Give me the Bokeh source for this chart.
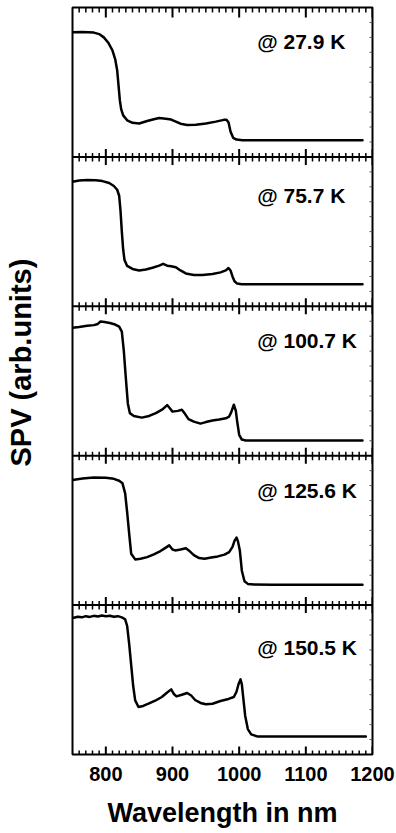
from bokeh.plotting import figure
from bokeh.models import LinearAxis, FixedTicker, Range1d, Title
from bokeh.core.properties import value
from bokeh.embed import file_html
from bokeh.resources import INLINE

FONT = "Liberation Sans"

# Temperature of each spectrum, top panel first
temperatures = ["27.9", "75.7", "100.7", "125.6", "150.5"]

# Wavelength axis ticks (nm)
x_major = [800, 900, 1000, 1100, 1200]
x_minor = [v for v in range(760, 1200, 10) if v % 100 != 0]

# SPV spectra, normalised to the height of their own panel
wl_27_9 = [750, 765, 782, 790, 797, 804, 810, 814, 817, 819, 821, 823, 826, 832, 840, 850,
           862, 872, 880, 890, 898, 905, 912, 922, 935, 950, 965, 977, 981, 984, 987, 991,
           996, 1005, 1050, 1100, 1150, 1185]
spv_27_9 = [0.834, 0.836, 0.832, 0.822, 0.800, 0.762, 0.712, 0.655, 0.580, 0.480, 0.380,
            0.320, 0.278, 0.245, 0.228, 0.224, 0.240, 0.252, 0.260, 0.256, 0.250, 0.236,
            0.222, 0.214, 0.215, 0.224, 0.236, 0.248, 0.248, 0.232, 0.170, 0.128, 0.116,
            0.112, 0.111, 0.111, 0.111, 0.112]

wl_75_7 = [750, 760, 772, 785, 795, 805, 812, 817, 820, 822, 824, 826, 828, 832, 840, 850,
           860, 870, 880, 886, 892, 898, 905, 912, 920, 932, 945, 960, 972, 980, 984, 987,
           990, 993, 997, 1004, 1050, 1100, 1150, 1185]
spv_75_7 = [0.834, 0.842, 0.845, 0.843, 0.838, 0.825, 0.805, 0.780, 0.740, 0.640, 0.500,
            0.380, 0.310, 0.270, 0.250, 0.240, 0.246, 0.258, 0.272, 0.284, 0.272, 0.268,
            0.262, 0.240, 0.220, 0.210, 0.210, 0.216, 0.227, 0.240, 0.256, 0.240, 0.200,
            0.168, 0.152, 0.148, 0.148, 0.148, 0.148, 0.148]

wl_100_7 = [750, 760, 772, 782, 788, 792, 798, 806, 814, 820, 824, 827, 830, 833, 836, 842,
            854, 865, 875, 885, 892, 896, 900, 908, 914, 918, 924, 932, 942, 950, 960, 970,
            980, 985, 988, 992, 995, 997, 1000, 1004, 1010, 1050, 1100, 1150, 1185]
spv_100_7 = [0.857, 0.862, 0.870, 0.874, 0.882, 0.898, 0.895, 0.888, 0.878, 0.864, 0.830,
             0.700, 0.520, 0.350, 0.285, 0.266, 0.255, 0.266, 0.285, 0.310, 0.339, 0.318,
             0.295, 0.300, 0.307, 0.285, 0.245, 0.228, 0.215, 0.225, 0.236, 0.242, 0.250,
             0.262, 0.290, 0.341, 0.300, 0.230, 0.140, 0.108, 0.102, 0.102, 0.102, 0.102,
             0.102]

wl_125_6 = [750, 765, 782, 800, 812, 820, 825, 829, 832, 835, 838, 844, 852, 862, 872, 882,
            890, 895, 900, 904, 912, 920, 926, 932, 940, 948, 958, 968, 978, 985, 990, 993,
            996, 998, 1001, 1004, 1008, 1013, 1022, 1050, 1100, 1150, 1185]
spv_125_6 = [0.838, 0.848, 0.854, 0.852, 0.845, 0.832, 0.815, 0.748, 0.620, 0.479, 0.344,
             0.306, 0.310, 0.321, 0.340, 0.362, 0.385, 0.400, 0.372, 0.366, 0.372, 0.380,
             0.360, 0.335, 0.315, 0.310, 0.318, 0.326, 0.338, 0.355, 0.390, 0.430, 0.452,
             0.430, 0.366, 0.230, 0.160, 0.142, 0.138, 0.137, 0.137, 0.137, 0.137]

wl_150_5 = [752, 758, 764, 770, 776, 782, 788, 794, 800, 806, 812, 818, 824, 829, 832, 835,
            838, 841, 844, 849, 856, 864, 874, 884, 892, 898, 902, 906, 914, 922, 928, 934,
            942, 950, 960, 972, 984, 992, 996, 999, 1002, 1004, 1006, 1009, 1013, 1018, 1027,
            1050, 1100, 1150, 1190]
spv_150_5 = [0.915, 0.922, 0.918, 0.926, 0.921, 0.928, 0.924, 0.930, 0.925, 0.929, 0.922,
             0.926, 0.918, 0.905, 0.860, 0.740, 0.600, 0.460, 0.362, 0.318, 0.325, 0.340,
             0.360, 0.385, 0.415, 0.436, 0.405, 0.389, 0.400, 0.412, 0.395, 0.365, 0.345,
             0.336, 0.340, 0.358, 0.372, 0.385, 0.420, 0.470, 0.503, 0.470, 0.385, 0.260,
             0.170, 0.135, 0.121, 0.121, 0.121, 0.121, 0.121]

spectra = [(wl_27_9, spv_27_9), (wl_75_7, spv_75_7), (wl_100_7, spv_100_7),
           (wl_125_6, spv_125_6), (wl_150_5, spv_150_5)]

n_panels = len(spectra)
X0, X1 = 750, 1200
FRAME_W, FRAME_H = 300, 747
px_per_unit = FRAME_H / n_panels
nm_per_px = (X1 - X0) / FRAME_W

p = figure(width=396, height=833, output_backend="svg", toolbar_location=None,
           x_range=Range1d(X0, X1), y_range=Range1d(0, n_panels),
           x_axis_location=None, y_axis_location=None,
           min_border_left=72, min_border_right=24, min_border_top=7, min_border_bottom=79,
           background_fill_color="white", border_fill_color="white")
p.grid.visible = False
p.outline_line_color = "black"
p.outline_line_width = 2

# --- panel separators and their wavelength ticks -------------------------
p.segment(x0=[X0] * (n_panels - 1), x1=[X1] * (n_panels - 1),
          y0=list(range(1, n_panels)), y1=list(range(1, n_panels)),
          line_color="black", line_width=2)


def tick_marks(ticks, up_px, down_px, top_px, bottom_px):
    """Vertical tick segments on every panel boundary (lengths in px)."""
    x0, y0, y1 = [], [], []
    for k in range(n_panels + 1):
        if k == 0:
            up, down = bottom_px, 0                # bottom edge: ticks point up
        elif k == n_panels:
            up, down = 0, top_px                   # top edge: ticks point down
        else:
            up, down = up_px, down_px              # separators: both sides
        for t in ticks:
            x0.append(t)
            y0.append(k - down / px_per_unit)
            y1.append(k + up / px_per_unit)
    return x0, y0, y1


mx, my0, my1 = tick_marks(x_major, 8, 8, 10, 8)
p.segment(x0=mx, x1=mx, y0=my0, y1=my1, line_color="black", line_width=2)
nx, ny0, ny1 = tick_marks(x_minor, 4, 4.5, 5, 4)
p.segment(x0=nx, x1=nx, y0=ny0, y1=ny1, line_color="black", line_width=1.5)

# fine ticks along the right edge
right_ticks = [k + f / 10 for k in range(n_panels) for f in range(1, 10)]
p.segment(x0=[X1 - 3 * nm_per_px] * len(right_ticks), x1=[X1] * len(right_ticks),
          y0=right_ticks, y1=right_ticks, line_color="#555555", line_width=1)

# --- tick labels and axis title under the stack ----------------------------
xlab = LinearAxis(ticker=FixedTicker(ticks=x_major))
xlab.axis_line_color = None
xlab.major_tick_in = 0
xlab.major_tick_out = 0
xlab.minor_tick_in = 0
xlab.minor_tick_out = 0
xlab.major_label_text_font = FONT
xlab.major_label_text_font_style = "bold"
xlab.major_label_text_font_size = "20px"
xlab.major_label_text_color = "black"
xlab.major_label_standoff = 12
xlab.axis_label = "Wavelength in nm"
xlab.axis_label_text_font = FONT
xlab.axis_label_text_font_style = "bold"
xlab.axis_label_text_font_size = "27px"
xlab.axis_label_text_color = "black"
xlab.axis_label_standoff = 14
p.add_layout(xlab, "below")

# --- quantity label in the left margin -------------------------------------
# a blank axis (one white tick, kept off the frame line) holds the label away
spacer = LinearAxis(ticker=FixedTicker(ticks=[n_panels / 2]))
spacer.axis_line_color = None
spacer.major_tick_in = -4
spacer.major_tick_out = 35
spacer.minor_tick_in = 0
spacer.minor_tick_out = 0
spacer.major_tick_line_color = "white"
spacer.minor_tick_line_color = None
spacer.major_label_text_color = None
spacer.major_label_standoff = 0
p.add_layout(spacer, "left")

ytitle = Title(text="SPV (arb.units)", align="left", vertical_align="middle",
               offset=288, standoff=0, text_font=FONT, text_font_style="bold",
               text_font_size="29px", text_color="black")
p.add_layout(ytitle, "left")

# --- spectra, top panel = lowest temperature -------------------------------
for i, (wl, spv) in enumerate(spectra):
    base = n_panels - 1 - i
    p.line(wl, [base + v for v in spv], line_color="black", line_width=2.5,
           line_join="round", line_cap="round")

# temperature labels in the upper right of each panel
label_drop_px = [34, 39, 34, 35, 42]
lab_y = [n_panels - i - label_drop_px[i] / px_per_unit for i in range(n_panels)]
p.text(x=[1027] * n_panels, y=lab_y, text=["@ %s K" % t for t in temperatures],
       text_font=value(FONT), text_font_style="bold", text_font_size="21px",
       text_color="black", text_align="left", text_baseline="alphabetic")

open("out.html", "w").write(file_html(p, INLINE))
